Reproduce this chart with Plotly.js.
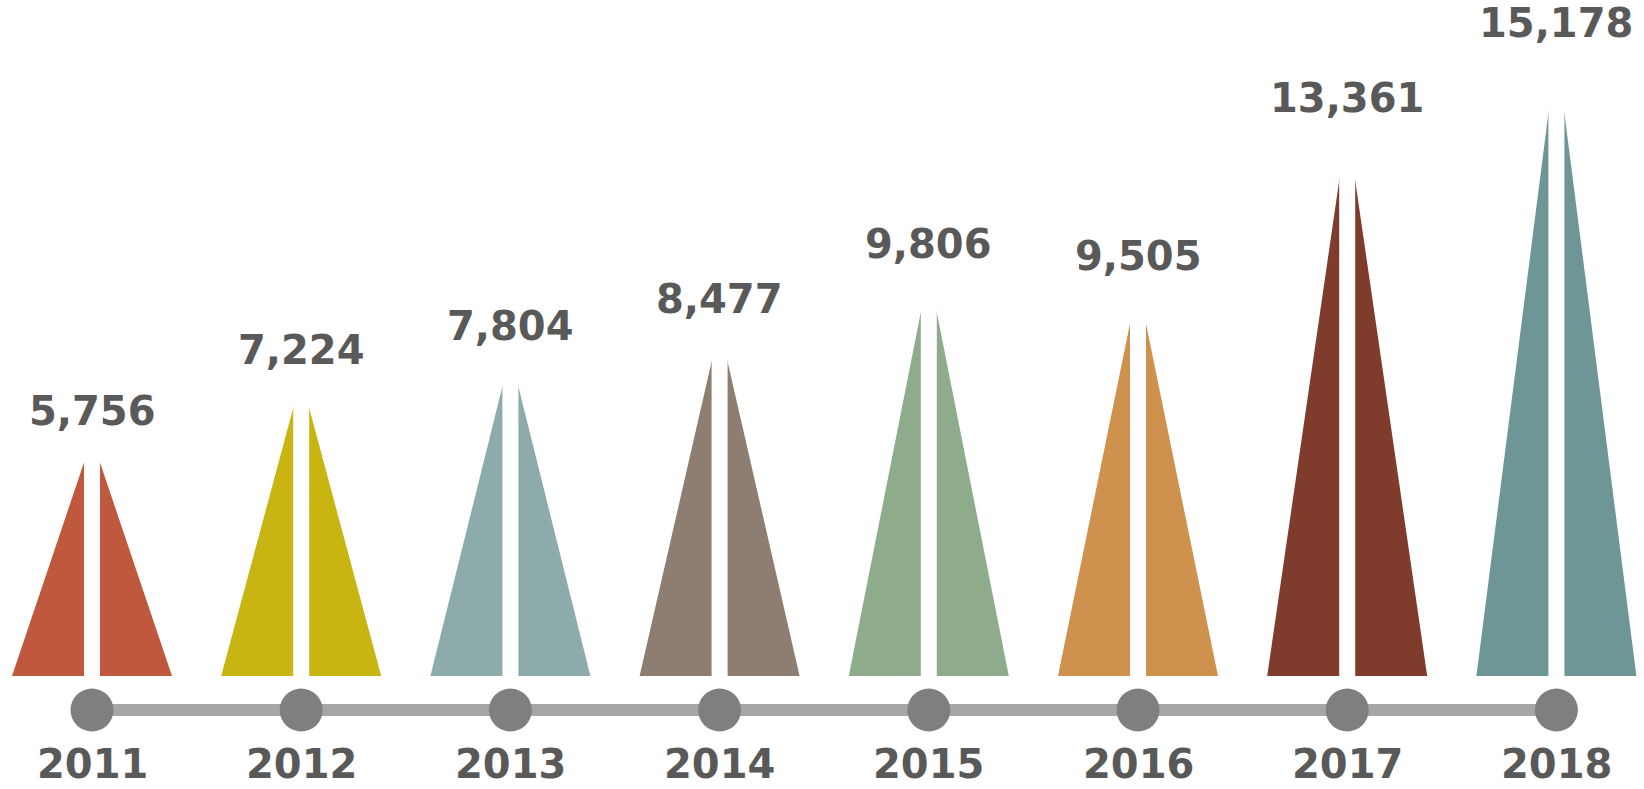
<!DOCTYPE html>
<html>
<head>
<meta charset="utf-8">
<script src="https://cdn.plot.ly/plotly-3.0.1.min.js"></script>
<style>html,body{margin:0;padding:0;background:#fff;}#chart{width:1644px;height:789px;}</style>
</head>
<body>
<div id="chart"></div>
<script>
const years = ['2011','2012','2013','2014','2015','2016','2017','2018'];
const values = [5756, 7224, 7804, 8477, 9806, 9505, 13361, 15178];
const colors = ['#C0583E','#C8B512','#8EABAC','#8E7E72','#8EAC8B','#CE914E','#7F3B2B','#6E9697'];

// layout geometry (pixels)
const W = 1644, H = 789;
const pxPerCat = 209.2, firstX = 92;
const pxPerUnit = 0.0412, baseY = 676;
const halfBase = 80 / pxPerCat;
const xmin = -firstX / pxPerCat, xmax = xmin + W / pxPerCat;
const yrange = H / pxPerUnit;
const ymin = -(H - baseY) / pxPerUnit, ymax = ymin + yrange;
const timelineY = -(710 - baseY) / pxPerUnit;
const fmt = v => v.toLocaleString('en-US');
const textColor = '#595959';
const font = {family: 'DejaVu Sans, Verdana, sans-serif', size: 40, color: textColor, weight: 'bold'};

const traces = [];
const shapes = [];
const annotations = [];
years.forEach((yr, i) => {
  const v = values[i];
  traces.push({
    type: 'scatter', mode: 'lines', fill: 'toself',
    x: [i - halfBase, i, i + halfBase, i - halfBase],
    y: [0, v, 0, 0],
    fillcolor: colors[i], line: {width: 0, color: colors[i]},
    hoverinfo: 'skip'
  });
  shapes.push({
    type: 'line', xref: 'x', yref: 'y', x0: i, x1: i, y0: -20, y1: v * 1.01,
    line: {color: '#ffffff', width: 16}, layer: 'above'
  });
  annotations.push({
    x: i, y: v, xref: 'x', yref: 'y', text: '<b>' + fmt(v) + '</b>',
    showarrow: false, yanchor: 'bottom', xanchor: 'center', yshift: 3, font: font
  });
  annotations.push({
    x: i, y: 0, xref: 'x', yref: 'paper', text: '<b>' + yr + '</b>',
    showarrow: false, yanchor: 'bottom', xanchor: 'center', yshift: 0, font: font
  });
});

traces.push({
  type: 'scatter', mode: 'lines+markers',
  x: years.map((_, i) => i), y: years.map(() => timelineY),
  line: {color: '#A6A6A6', width: 12},
  marker: {color: '#7F7F7F', size: 43},
  hoverinfo: 'skip'
});

Plotly.newPlot('chart', traces, {
  width: W, height: H,
  margin: {l: 0, r: 0, t: 0, b: 0, pad: 0},
  paper_bgcolor: '#ffffff', plot_bgcolor: '#ffffff',
  showlegend: false,
  xaxis: {range: [xmin, xmax], visible: false, fixedrange: true},
  yaxis: {range: [ymin, ymax], visible: false, fixedrange: true},
  shapes: shapes,
  annotations: annotations
}, {displayModeBar: false, staticPlot: true});
</script>
</body>
</html>
